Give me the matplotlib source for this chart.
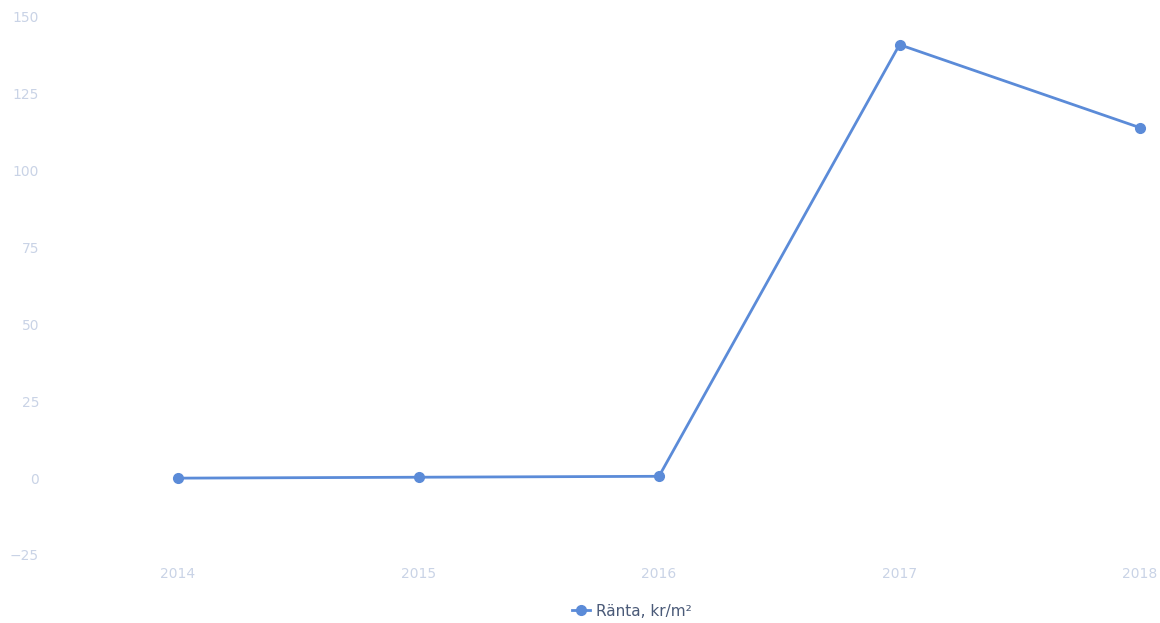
import matplotlib
matplotlib.use("Agg")
import matplotlib.pyplot as plt

years = [2014, 2015, 2016, 2017, 2018]
ranta = [0.0, 0.3, 0.6, 141.0, 114.0]
y_ticks = [-25, 0, 25, 50, 75, 100, 125, 150]
series_label = "Ränta, kr/m²"

line_color = "#5b8bd8"
tick_color = "#c9d3e6"

fig = plt.figure(figsize=(11.6, 6.23), dpi=100)
ax = fig.add_axes([178 / 1160, 68 / 623, (1140 - 178) / 1160, (555 - 17) / 623])

ax.plot(years, ranta, color=line_color, linewidth=2.0, marker="o",
        markersize=7, clip_on=False, label=series_label)

ax.set_xlim(2014, 2018)
ax.set_ylim(-25, 150)
ax.set_xticks(years)
ax.set_xticklabels([str(y) for y in years])
ax.set_yticks(y_ticks)

for s in ax.spines.values():
    s.set_visible(False)
ax.tick_params(axis="both", length=0, colors=tick_color, labelsize=10)
ax.tick_params(axis="y", pad=100)
ax.tick_params(axis="x", pad=9)

leg = fig.legend(loc="center", bbox_to_anchor=(632 / 1160, 1 - 611 / 623),
                 frameon=False, fontsize=11, handlelength=1.2,
                 handletextpad=0.4, borderpad=0)
for t in leg.get_texts():
    t.set_color("#4a5a78")

fig.savefig("out.png", dpi=100)
